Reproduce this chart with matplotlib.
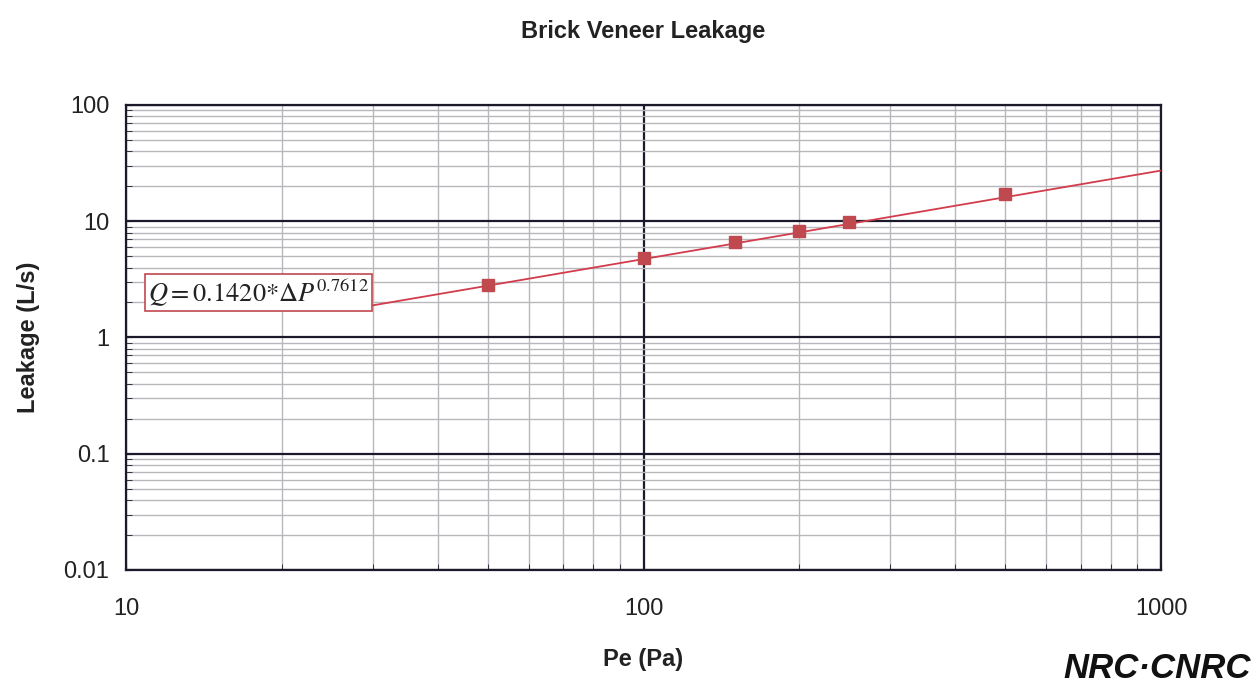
import numpy as np
import matplotlib.pyplot as plt
from matplotlib.ticker import LogLocator, NullFormatter, FixedLocator, FixedFormatter

plt.rcParams['font.family'] = ['Liberation Sans', 'DejaVu Sans']
plt.rcParams['mathtext.fontset'] = 'stix'

# measured pressure differences (Pa) and leakage (L/s)
pe = [50, 100, 150, 200, 250, 500]
leak = [2.85, 4.85, 6.6, 8.2, 9.8, 17.0]

# power-law fit Q = C * dP^n
C = 0.1420
n = 0.7612
fit_x = np.logspace(np.log10(30), 3, 100)
fit_y = C * fit_x**n

fig = plt.figure(figsize=(12.53, 6.93), dpi=100)
ax = fig.add_axes([0.1006, 0.1775, 0.826, 0.671])
ax.set_xscale('log')
ax.set_yscale('log')
ax.set_xlim(10, 1000)
ax.set_ylim(0.01, 100)

# grid: black at decades, gray in between
ax.xaxis.set_minor_locator(LogLocator(base=10, subs=np.arange(2, 10)))
ax.yaxis.set_minor_locator(LogLocator(base=10, subs=np.arange(2, 10)))
ax.xaxis.set_minor_formatter(NullFormatter())
ax.yaxis.set_minor_formatter(NullFormatter())
ax.grid(which='major', color='#1a1a2a', lw=1.6)
ax.grid(which='minor', color='#b8b8bc', lw=1.0)
ax.set_axisbelow(True)

xt = [10, 100, 1000]
yt = [0.01, 0.1, 1, 10, 100]
ax.xaxis.set_major_locator(FixedLocator(xt))
ax.xaxis.set_major_formatter(FixedFormatter(['10', '100', '1000']))
ax.yaxis.set_major_locator(FixedLocator(yt))
ax.yaxis.set_major_formatter(FixedFormatter(['0.01', '0.1', '1', '10', '100']))
ax.tick_params(which='both', direction='in', length=4, labelsize=17, color='#1a1a2a',
               labelcolor='#222222')
ax.tick_params(axis='y', pad=12)
ax.tick_params(axis='x', pad=20)

for s in ax.spines.values():
    s.set_color('#1a1a2a')
    s.set_linewidth(1.6)

ax.plot(fit_x, fit_y, color='#d23c4c', lw=1.3, zorder=3)
ax.plot(pe, leak, 's', color='#c0484f', ms=9, zorder=4)

ax.text(0.021, 0.596, r'$Q = 0.1420{*}\Delta P^{0.7612}$', transform=ax.transAxes,
        fontsize=19, color='#222222', va='center', ha='left',
        bbox=dict(boxstyle='square,pad=0.12', fc='white', ec='#c0484f', lw=1.2),
        zorder=5)

ax.set_xlabel('Pe (Pa)', fontsize=17, fontweight='bold', labelpad=20, color='#222222')
ax.set_ylabel('Leakage (L/s)', fontsize=17, fontweight='bold', color='#222222')
ax.yaxis.set_label_coords(-0.083, 0.5)
fig.text(0.513, 0.955, 'Brick Veneer Leakage', ha='center', va='center',
         fontsize=17, fontweight='bold', color='#222222')

fig.text(0.998, 0.035, 'NRC·CNRC', ha='right', va='center', fontsize=25,
         fontweight='heavy', style='italic', color='#111111')

fig.savefig('out.png', dpi=100)
